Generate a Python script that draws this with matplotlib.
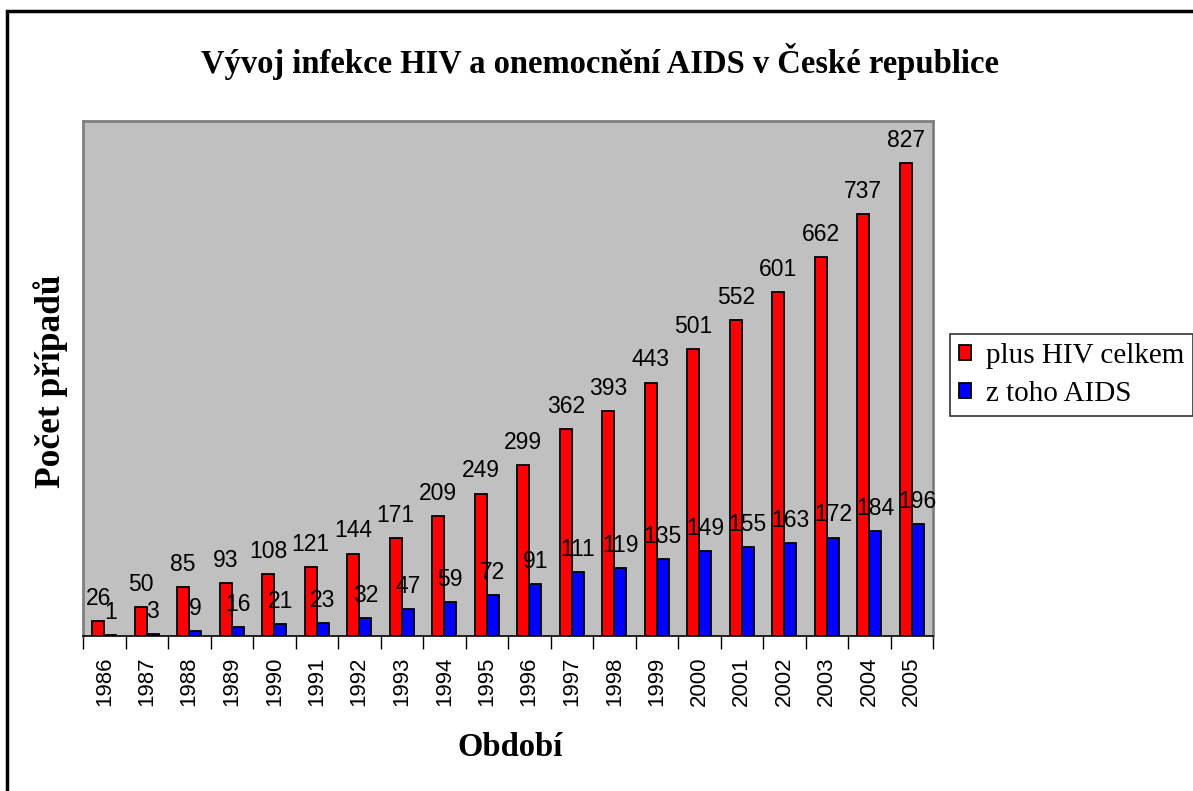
import matplotlib.pyplot as plt
import matplotlib.patches as mpatches
import numpy as np

# Data
years = ["1986", "1987", "1988", "1989", "1990", "1991", "1992", "1993", "1994", "1995",
         "1996", "1997", "1998", "1999", "2000", "2001", "2002", "2003", "2004", "2005"]
hiv_total = [26, 50, 85, 93, 108, 121, 144, 171, 209, 249,
             299, 362, 393, 443, 501, 552, 601, 662, 737, 827]
aids = [1, 3, 9, 16, 21, 23, 32, 47, 59, 72,
        91, 111, 119, 135, 149, 155, 163, 172, 184, 196]

serif = ["Liberation Serif", "DejaVu Serif"]
sans = ["Liberation Sans", "DejaVu Sans"]

fig = plt.figure(figsize=(11.93, 7.91), dpi=100)
ax = fig.add_axes([83 / 1193, 1 - 636 / 791, 850 / 1193, 515 / 791])
ax.set_facecolor("#C0C0C0")

# Outer chart border
fig.patches.append(mpatches.Rectangle((7 / 1193, -0.1), 1.2, 1 - 11 / 791 + 0.1,
                                      transform=fig.transFigure, fill=False,
                                      edgecolor="black", linewidth=2.5))

n = len(years)
x = np.arange(n)
w = 1 / 3.5
x_red = x + 0.75 / 3.5 + w / 2
x_blue = x_red + w

ax.bar(x_red, hiv_total, w, color="#FF0000", edgecolor="black", linewidth=1.3,
       label="plus HIV celkem")
ax.bar(x_blue, aids, w, color="#0000FF", edgecolor="black", linewidth=1.3,
       label="z toho AIDS")

# Value labels above bars
for xs, vals in [(x_red, hiv_total), (x_blue, aids)]:
    for xi, v in zip(xs, vals):
        ax.annotate(str(v), (xi, v), xytext=(0, 8), textcoords="offset points",
                    ha="center", va="bottom", fontsize=16.5, family=sans)

ax.set_xlim(0, n)
ax.set_ylim(0, 900)
ax.set_yticks([])

# Ticks at category boundaries, labels at centers
ax.set_xticks(np.arange(n + 1))
ax.set_xticklabels([])
ax.tick_params(axis="x", which="major", direction="out", length=9, width=1, color="black")
ax.set_xticks(x + 0.5, minor=True)
ax.set_xticklabels(years, minor=True, rotation=90, fontsize=16, family=sans)
ax.tick_params(axis="x", which="minor", length=0, pad=15)

for s in ["left", "top", "right"]:
    ax.spines[s].set_color("#808080")
    ax.spines[s].set_linewidth(2)
ax.spines["bottom"].set_color("black")
ax.spines["bottom"].set_linewidth(1.2)

fig.text(600 / 1193, 1 - 62 / 791, "Vývoj infekce HIV a onemocnění AIDS v České republice",
         ha="center", va="center", fontsize=23.5, fontweight="bold", family=serif)
fig.text(51 / 1193, 1 - 381 / 791, "Počet případů", ha="center", va="center",
         rotation=90, fontsize=25.5, fontweight="bold", family=serif)
fig.text(510 / 1193, 1 - 748 / 791, "Období", ha="center", va="center",
         fontsize=23.5, fontweight="bold", family=serif)

leg = ax.legend(loc="center left", bbox_to_anchor=(950 / 1193, 1 - 375 / 791),
                bbox_transform=fig.transFigure, frameon=True, fancybox=False,
                edgecolor="black", prop={"family": serif, "size": 21},
                handlelength=0.42, handleheight=0.42, handletextpad=0.5,
                borderpad=0.3, labelspacing=0.4, borderaxespad=0)
leg.get_frame().set_linewidth(1.2)

fig.savefig("out.png", dpi=100)
